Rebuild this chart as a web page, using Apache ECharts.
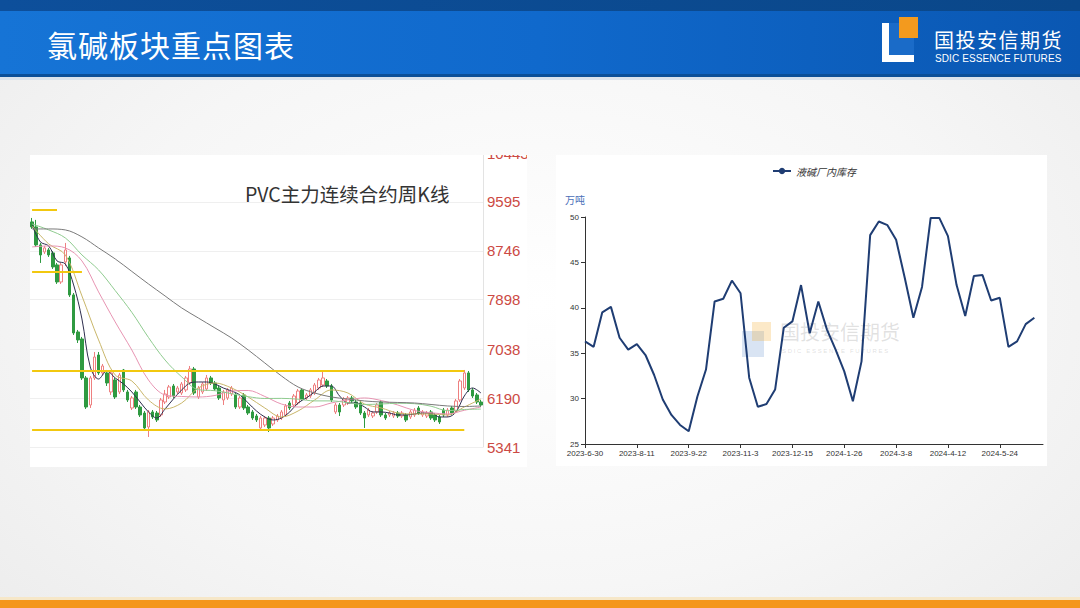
<!DOCTYPE html>
<html><head><meta charset="utf-8">
<script src="https://cdn.jsdelivr.net/npm/echarts/dist/echarts.min.js"></script>
<style>
html,body{margin:0;padding:0;}
body{width:1080px;height:608px;overflow:hidden;font-family:"Noto Sans CJK SC","Noto Sans",sans-serif;}
#slide{position:relative;width:1080px;height:608px;overflow:hidden;background:radial-gradient(ellipse 75% 85% at 50% 50%,#ffffff 0%,#f6f6f6 55%,#eaeaea 100%);}
#hdr{position:absolute;left:0;top:0;width:1080px;height:77px;background:linear-gradient(to right,#1674d6 0%,#1069cc 50%,#0a57b2 100%);}
#hdrTop{position:absolute;left:0;top:0;width:1080px;height:11px;background:linear-gradient(to right,#0d4f9b,#0a4789);}
#hdrLine{position:absolute;left:0;top:74px;width:1080px;height:3px;background:#0b4f98;}
#hdrShadow{position:absolute;left:0;top:77px;width:1080px;height:3px;background:#dbe3ec;}
#title{position:absolute;left:47px;top:23px;font-size:30px;line-height:42px;color:#fff;letter-spacing:1px;white-space:nowrap;}
#logoW{position:absolute;left:882px;top:23px;width:32px;height:39px;background:#fff;}
#logoB{position:absolute;left:889px;top:23px;width:25px;height:32px;background:#1a6bc8;}
#logoO{position:absolute;left:899px;top:17px;width:19px;height:21px;background:#f39a1e;}
#logoT1{position:absolute;left:934px;top:29px;font-size:20px;line-height:22px;color:#fff;letter-spacing:1.5px;white-space:nowrap;}
#logoT2{position:absolute;left:935px;top:53px;font-size:10px;line-height:11px;color:#fff;font-family:"Liberation Sans Narrow","Liberation Sans",sans-serif;white-space:nowrap;letter-spacing:0.1px;}
#leftWrap{position:absolute;left:30px;top:155px;width:497px;height:312px;background:#fff;overflow:hidden;}
#kline{position:absolute;left:0;top:-20px;width:497px;height:332px;}
#right{position:absolute;left:556px;top:155px;width:491px;height:311px;background:#fff;}
#botLine{position:absolute;left:0;top:597px;width:1080px;height:3px;background:#f6e7c8;}
#bot{position:absolute;left:0;top:600px;width:1080px;height:8px;background:#f4961c;}
</style>
</head>
<body>
<div id="slide">
  <div id="hdr"></div><div id="hdrTop"></div><div id="hdrLine"></div><div id="hdrShadow"></div>
  <div id="title">氯碱板块重点图表</div>
  <div id="logoW"></div><div id="logoB"></div><div id="logoO"></div>
  <div id="logoT1">国投安信期货</div>
  <div id="logoT2">SDIC ESSENCE FUTURES</div>
  <div id="leftWrap"><div id="kline"></div></div>
  <div id="right"></div>
  <div id="botLine"></div><div id="bot"></div>
</div>
<script>
// ---------------- Left chart data: PVC weekly K-line ----------------
const klineOpen = [9247,9160,8848,8726,8761,8709,8501,8205,8553,8622,7980,7337,7216,6539,6070,6539,6938,6626,6626,6296,6504,6296,6678,6296,6018,6296,6035,5931,5688,5949,5931,5897,6122,6209,6400,6296,6278,6331,6452,6695,6209,6296,6348,6539,6452,6365,6157,6192,6261,6244,6035,6244,6035,5949,5879,5671,5723,5844,5740,5810,5844,5897,6105,6070,6105,6331,6192,6226,6278,6365,6417,6487,6400,5949,6070,6070,6105,6192,6122,6105,5931,5897,5879,5949,6122,5897,5897,5879,5931,5879,5897,5862,5897,6018,5897,5879,5949,5897,5862,5983,5897,6018,5966,6157,6365,6626,6331,6244,6122];
const klineClose = [9160,8848,8674,8796,8674,8466,8205,8501,8761,7980,7320,7199,6539,6035,6539,6903,6626,6747,6452,6626,6209,6591,6331,6157,6192,6035,5897,5671,5949,5862,5810,6157,6261,6383,6226,6365,6435,6539,6695,6278,6365,6435,6539,6452,6348,6192,6296,6331,6365,6035,6192,6018,5931,5844,5810,5844,5844,5671,5844,5879,5949,6053,6018,6226,6313,6174,6244,6331,6417,6504,6539,6400,6157,6070,5949,6174,6192,6140,6035,5931,5844,5983,5931,6070,5897,5844,5931,5931,5879,5931,5810,5949,5983,5931,5949,5931,5844,5810,5775,5897,5983,5931,6140,6487,6626,6331,6226,6122,6070];
const klineHigh = [9316,9282,8882,8830,8796,8743,8535,8535,8882,8657,8014,7372,7251,6574,6574,6990,6990,6782,6678,6660,6539,6626,6695,6331,6226,6331,6070,5966,5983,5983,5966,6192,6331,6417,6435,6400,6469,6574,6747,6730,6400,6469,6591,6574,6487,6400,6331,6365,6400,6278,6226,6278,6070,5983,5914,5879,5879,5879,5879,5914,5983,6087,6140,6261,6348,6365,6278,6365,6452,6539,6660,6521,6435,6105,6105,6209,6226,6226,6157,6140,5966,6018,5966,6105,6157,5931,5966,5966,5966,5966,5931,5983,6018,6053,5983,5966,5983,5931,5897,6018,6018,6053,6174,6521,6678,6660,6365,6278,6157];
const klineLow = [9126,8813,8535,8691,8639,8431,8171,8171,8483,7945,7285,7146,6504,6001,6018,6504,6591,6591,6400,6244,6174,6261,6296,6122,5983,6001,5862,5619,5515,5827,5775,5862,6087,6174,6192,6261,6244,6296,6417,6244,6174,6261,6313,6417,6313,6157,6070,6157,6226,6001,6001,5983,5897,5810,5775,5636,5688,5601,5706,5775,5810,5862,5983,6035,6070,6140,6157,6192,6244,6331,6383,6365,6122,5914,5879,6035,6070,6105,6001,5897,5671,5862,5844,5914,5862,5810,5862,5844,5844,5844,5775,5827,5862,5897,5862,5844,5810,5775,5740,5862,5862,5897,5931,6122,6331,6296,6192,6087,6035];
// moving averages (one value every `step` weeks)
const ma5Step = 2;
const ma5 = [9195,8900,8830,8570,8518,8153,7563,6730,6521,6660,6539,6435,6296,6122,5949,5844,6001,6174,6331,6452,6469,6469,6435,6365,6313,6244,6105,5966,5862,5810,5844,5949,6105,6192,6296,6400,6400,6226,6105,6105,6035,5949,5949,5931,5897,5897,5914,5931,5931,5862,5862,5949,6226,6365,6278];
const maStep = 4;
const ma10 = [9178,8865,8674,7962,7199,6591,6487,6157,6001,6105,6365,6452,6365,6209,6018,5862,5966,6157,6331,6278,6087,6018,5931,5914,5914,5897,6035,6174];
const ma20 = [8813,8830,8796,8570,8032,7511,7025,6504,6244,6218,6209,6235,6313,6322,6218,6087,6035,6035,6105,6157,6192,6148,6070,5975,5936,5914,5978,6035];
const ma30 = [9212,9108,8969,8674,8414,8056,7678,7242,6850,6558,6336,6318,6266,6214,6183,6185,6171,6141,6141,6110,6079,6087,6100,6093,6049,5971,5992,5999];
const ma60 = [9125,9125,9108,8987,8796,8605,8388,8171,7962,7754,7580,7407,7233,7025,6799,6574,6383,6278,6209,6174,6140,6122,6114,6105,6079,6053,6044,6053];
// yellow support / resistance levels and the week where each one ends
const levelValues = [9455, 8384, 6666, 5641];
const levelEndWeek = [6, 12, 104, 104];
// right-side axis tick labels
const klineTicks = [5341, 6190, 7038, 7898, 8746, 9595, 10443];
const klineTitle = 'PVC主力连续合约周K线';

// week categories (labels are not shown)
const klineWeeks = [];
(function(){ const d0 = Date.UTC(2022,4,13); for (let i=0;i<klineOpen.length;i++){ const d=new Date(d0+i*7*86400000); klineWeeks.push(d.getUTCFullYear()+'-'+(d.getUTCMonth()+1)+'-'+d.getUTCDate()); } })();

// ---------------- Right chart data: caustic soda factory inventory ----------------
const invDates = ['2023-6-30','2023-7-7','2023-7-14','2023-7-21','2023-7-28','2023-8-4','2023-8-11','2023-8-18','2023-8-25','2023-9-1','2023-9-8','2023-9-15','2023-9-22','2023-9-28','2023-10-6','2023-10-13','2023-10-20','2023-10-27','2023-11-3','2023-11-10','2023-11-17','2023-11-24','2023-12-1','2023-12-8','2023-12-15','2023-12-22','2023-12-29','2024-1-5','2024-1-12','2024-1-19','2024-1-26','2024-2-2','2024-2-9','2024-2-16','2024-2-23','2024-3-1','2024-3-8','2024-3-15','2024-3-22','2024-3-29','2024-4-3','2024-4-7','2024-4-12','2024-4-19','2024-4-26','2024-4-30','2024-5-10','2024-5-17','2024-5-24','2024-5-31','2024-6-7','2024-6-14','2024-6-21','2024-6-28'];
const invValues = [36.3,35.7,39.5,40.1,36.7,35.4,36.0,34.8,32.6,29.9,28.2,27.1,26.4,30.2,33.2,40.7,41.0,43.0,41.6,32.3,29.1,29.4,31.0,37.8,38.5,42.5,37.2,40.7,37.6,35.4,33.0,29.7,34.1,48.0,49.5,49.1,47.5,43.3,38.9,42.3,49.9,49.9,47.9,42.5,39.1,43.5,43.6,40.8,41.1,35.7,36.3,38.2,38.9];
const invSeriesName = '液碱厂内库存';
const invUnit = '万吨';

// ---------------- styles ----------------
const maNames = ['MA5','MA10','MA20','MA30','MA60'];
const maColors = ['#2e2e4e','#c9b66a','#e794b2','#8fcb8f','#7a7a7a'];
const upColor = '#ee8080', downColor = '#2f9a41', levelColor = '#f2c80f';

// ---------------- left chart ----------------
const chartL = echarts.init(document.getElementById('kline'), null, {renderer:'svg'});
const candleData = klineOpen.map((o,i)=>[o, klineClose[i], klineLow[i], klineHigh[i]]);
const maSeriesData = [ [ma5, ma5Step], [ma10, maStep], [ma20, maStep], [ma30, maStep], [ma60, maStep] ];
const maSeries = maSeriesData.map((m,k)=>({
  type:'line', name:maNames[k], data:m[0].map((v,j)=>[j*m[1], v]),
  smooth:0.35, showSymbol:false, symbol:'none', silent:true, z:3,
  lineStyle:{width:1, color:maColors[k]}
}));
chartL.setOption({
  animation:false,
  title:{text:klineTitle, left:210, top:44, textStyle:{fontSize:19.5, fontWeight:'normal', color:'#333', fontFamily:'"Noto Sans CJK SC", sans-serif'}},
  grid:{left:0, right:44, top:18, bottom:20, outerBoundsMode:'none'},
  xAxis:{type:'category', data:klineWeeks, boundaryGap:true, show:false},
  yAxis:{type:'value', position:'right', min:klineTicks[0], max:klineTicks[klineTicks.length-1], scale:true,
    axisLine:{show:true, lineStyle:{color:'#e3e3e3'}},
    axisTick:{show:false, customValues:klineTicks},
    axisLabel:{customValues:klineTicks, color:'#cc4a44', fontSize:15, margin:4, fontFamily:'Arial, "Liberation Sans", sans-serif', formatter:v=>String(Math.round(v))},
    splitLine:{show:true, lineStyle:{color:'#efefef', width:1}}
  },
  series:[{
    type:'candlestick', name:'K', data:candleData, barWidth:3, z:2,
    itemStyle:{color:'#ffffff', color0:downColor, borderColor:upColor, borderColor0:downColor, borderWidth:1},
    markLine:{silent:true, symbol:['none','none'], label:{show:false}, lineStyle:{color:levelColor, width:2, type:'solid'},
      data: levelValues.map((v,k)=>[{coord:[0, v]}, {coord:[levelEndWeek[k], v]}])}
  }].concat(maSeries)
});

// ---------------- right chart ----------------
const chartR = echarts.init(document.getElementById('right'), null, {renderer:'svg'});
chartR.setOption({
  animation:false,
  legend:{top:6, left:211, itemWidth:18, itemHeight:8, itemGap:8, data:[invSeriesName],
    textStyle:{fontSize:10, color:'#333', fontStyle:'italic', fontFamily:'"Noto Sans CJK SC", sans-serif'}},
  grid:{left:29, right:4, top:62, bottom:22, outerBoundsMode:'none'},
  xAxis:{type:'category', data:invDates, boundaryGap:false,
    axisLine:{show:true, lineStyle:{color:'#333', width:1}},
    axisTick:{show:true, interval:5, length:4, lineStyle:{color:'#333'}},
    axisLabel:{interval:5, fontSize:8, color:'#333', margin:5, fontFamily:'"Liberation Sans", Arial, sans-serif'},
    splitLine:{show:false}},
  yAxis:{type:'value', min:25, max:50, interval:5, name:invUnit, nameLocation:'end', nameGap:13,
    nameTextStyle:{color:'#4a6fb8', fontSize:10, align:'right', verticalAlign:'bottom', fontFamily:'"Noto Sans CJK SC", sans-serif'},
    axisLine:{show:true, lineStyle:{color:'#333', width:1}},
    axisTick:{show:true, length:4, lineStyle:{color:'#333'}},
    axisLabel:{fontSize:8, color:'#333', margin:6, fontFamily:'"Liberation Sans", Arial, sans-serif'},
    splitLine:{show:false}},
  graphic:[
    {type:'rect', left:186, top:176, shape:{width:22, height:26}, style:{fill:'rgba(80,130,200,0.22)'}, silent:true, z:0},
    {type:'rect', left:196, top:167, shape:{width:19, height:19}, style:{fill:'rgba(245,166,35,0.25)'}, silent:true, z:0},
    {type:'text', left:224, top:166, style:{text:'国投安信期货', fontSize:20, fill:'rgba(150,150,150,0.28)', fontFamily:'"Noto Sans CJK SC", sans-serif'}, silent:true, z:0},
    {type:'text', left:226, top:193, style:{text:'S D I C   E S S E N C E   F U T U R E S', fontSize:6, fill:'rgba(150,150,150,0.3)', fontFamily:'"Liberation Sans", sans-serif'}, silent:true, z:0}
  ],
  series:[{type:'line', name:invSeriesName, data:invValues, symbol:'circle', symbolSize:8, showSymbol:false,
    lineStyle:{width:2, color:'#1f3d73'}, itemStyle:{color:'#1f3d73'}, z:3}]
});
</script>
</body></html>
